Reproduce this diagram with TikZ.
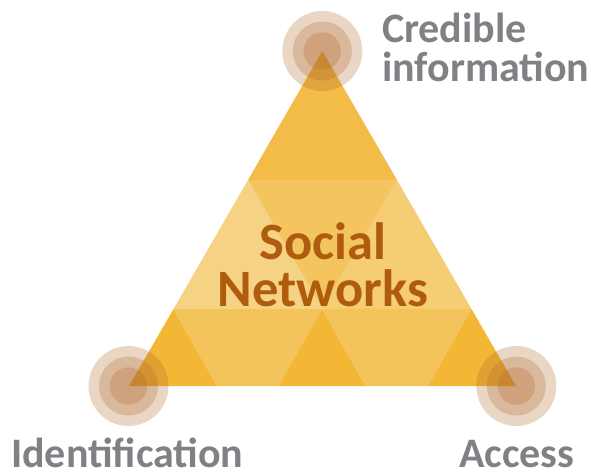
\documentclass[tikz,border=0pt]{standalone}
\usepackage{fontspec}
\setmainfont{Carlito}
\definecolor{topc}{HTML}{F3BC48}
\definecolor{midc}{HTML}{F4C55F}
\definecolor{leftc}{HTML}{F6D285}
\definecolor{rightc}{HTML}{F5CD74}
\definecolor{cornerc}{HTML}{F3B735}
\definecolor{trapc}{HTML}{F4C45C}
\definecolor{ringc}{HTML}{B0672A}
\definecolor{titlec}{HTML}{AF5C0E}
\definecolor{labelc}{HTML}{808184}
\tikzset{
  ring/.style={fill=ringc,fill opacity=.27,draw=none},
  piece/.style={draw=none},
  title/.style={font=\bfseries\fontsize{52.5}{47}\selectfont,text=titlec,align=center,inner sep=0pt},
  lab/.style={font=\bfseries\fontsize{42}{39}\selectfont,text=labelc,align=left,inner sep=0pt}
}
\newcommand{\rings}[1]{%
  \fill[ring] (#1) circle[radius=40];
  \fill[ring] (#1) circle[radius=29.5];
  \fill[ring] (#1) circle[radius=18.7];
}
\begin{document}
\begin{tikzpicture}[x=1pt,y=-1pt]
\useasboundingbox (0,0) rectangle (591,472);
\coordinate (A) at (322.3,51);
\coordinate (B) at (129,386);
\coordinate (C) at (516,386);
\fill[piece,topc] (A) -- (248,180) -- (397,180) -- cycle;
\fill[piece,leftc] (248,180) -- (173.5,309) -- (322.3,309) -- cycle;
\fill[piece,rightc] (397,180) -- (471.5,309) -- (322.3,309) -- cycle;
\fill[piece,midc] (248,180) -- (397,180) -- (322.3,309) -- cycle;
\fill[piece,cornerc] (B) -- (173.5,309) -- (217,386) -- cycle;
\fill[piece,trapc] (173.5,309) -- (217,386) -- (278.5,386) -- (322.3,309) -- cycle;
\fill[piece,cornerc] (278.5,386) -- (322.3,309) -- (365.5,386) -- cycle;
\fill[piece,trapc] (322.3,309) -- (365.5,386) -- (428,386) -- (471.5,309) -- cycle;
\fill[piece,cornerc] (428,386) -- (471.5,309) -- (C) -- cycle;
\rings{322.3,51}
\rings{128.5,386}
\rings{516.3,386}
\node[title,anchor=base] (social) at (323,306) {Social\\Networks};
\node[lab,anchor=base west] (cred) at (382,81) {Credible\\information};
\node[lab,anchor=base west] (ident) at (11,467) {Identification};
\node[lab,anchor=base west] (acc) at (459,467) {Access};
\end{tikzpicture}
\end{document}
